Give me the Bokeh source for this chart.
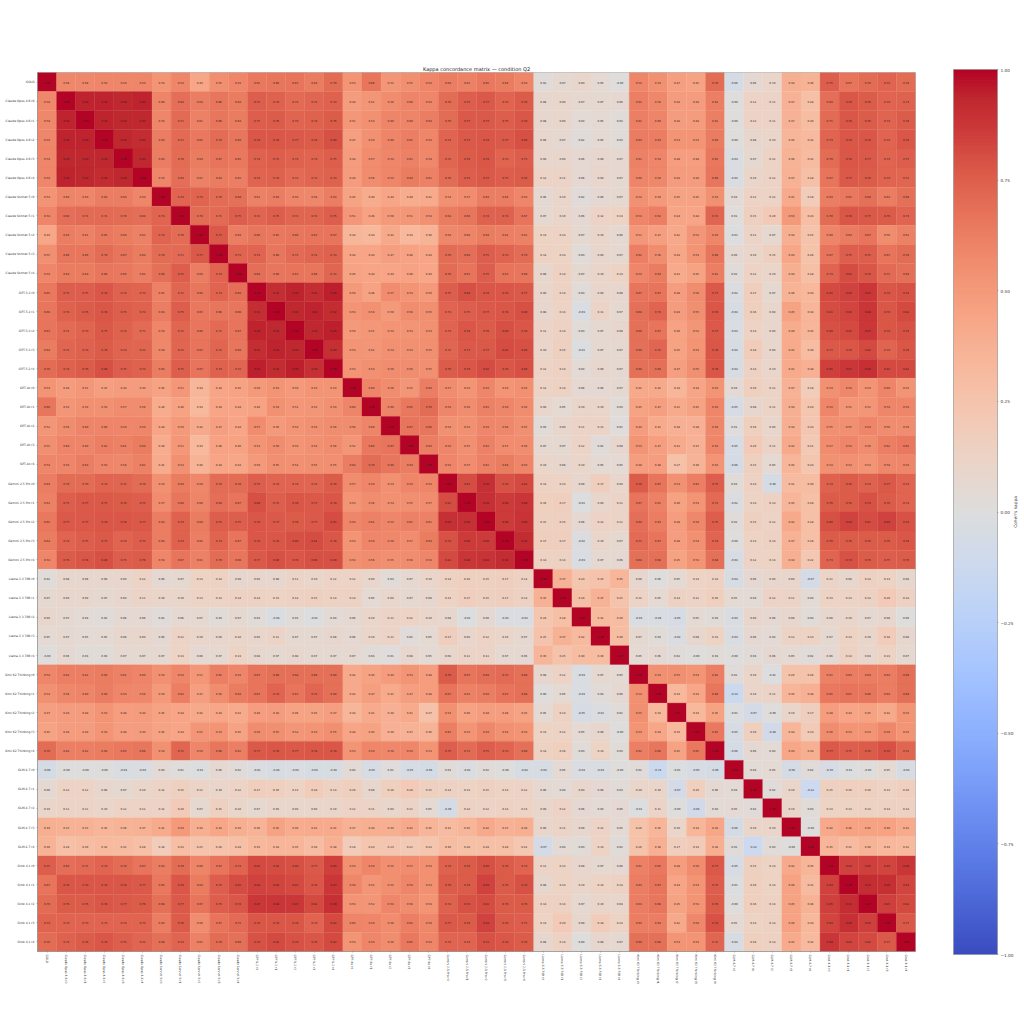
import numpy as np
from bokeh.plotting import figure
from bokeh.layouts import row
from bokeh.embed import file_html
from bokeh.resources import INLINE
from bokeh.models import ColumnDataSource, LinearColorMapper, ColorBar, FixedTicker, FactorRange, Label, Range1d
from bokeh.core.properties import value
from bokeh.transform import transform

models = ["Claude Opus 4.6", "Claude Sonnet 5", "GPT-5.2", "GPT-4o", "Gemini 2.5 Pro", "Llama 3.3 70B", "Kimi K2 Thinking", "GLM-4.7", "Grok 4.1"]
labels = ["GOLD"] + [f"{m} r{i}" for m in models for i in range(5)]

# Upper triangle of the kappa matrix (values right of the diagonal), one list per row
gold = [.58,.58,.59,.59,.59, .53,.59,.43,.55,.59, .65,.66,.67,.64,.70, .53,.66,.52,.55,.59, .63,.61,.65,.64,.59, .02,.07,.09,.05,-.0, .59,.54,.47,.45,.70, -.06,.06,.10,.39,.36, .75,.67,.70,.73,.70]
opus0 = [.94,.94,.93,.94, .60,.69,.63,.66,.64, .75,.74,.71,.72,.74, .49,.52,.56,.60,.59, .70,.75,.77,.73,.76, .08,.09,.07,.07,.06, .62,.58,.49,.49,.62, -.0,.12,.11,.37,.28, .69,.78,.76,.73,.74]
opus1 = [.94,.93,.93, .59,.71,.61,.66,.64, .75,.76,.73,.74,.76, .51,.54,.60,.60,.63, .70,.77,.77,.75,.78, .08,.09,.04,.05,.03, .62,.60,.49,.49,.62, -.0,.12,.11,.37,.30, .71,.78,.76,.73,.76]
opus2 = [.93,.92, .63,.71,.65,.70,.66, .78,.78,.77,.76,.80, .47,.54,.60,.62,.59, .73,.77,.78,.77,.80, .08,.07,.02,.05,.03, .64,.63,.53,.53,.64, -.0,.08,.10,.35,.32, .73,.78,.78,.73,.78]
opus3 = [.93, .63,.70,.64,.67,.65, .74,.75,.74,.73,.75, .49,.57,.59,.61,.58, .72,.76,.78,.73,.75, .09,.09,.06,.08,.07, .61,.59,.48,.48,.65, -.03,.07,.12,.36,.31, .70,.78,.77,.73,.75]
opus4 = [.59,.69,.61,.64,.62, .73,.74,.71,.72,.74, .49,.56,.59,.64,.61, .70,.75,.77,.75,.76, .12,.11,.06,.09,.07, .60,.58,.49,.49,.66, -.03,.10,.12,.37,.28, .67,.77,.76,.73,.72]
sonnet0 = [.73,.73,.70,.68, .61,.63,.59,.58,.63, .45,.40,.44,.40,.41, .54,.57,.63,.63,.59, .06,.10,.02,.06,.07, .54,.50,.45,.45,.54, .04,.12,.12,.41,.18, .63,.65,.68,.63,.68]
sonnet1 = [.70,.71,.75, .72,.75,.72,.72,.75, .51,.46,.50,.51,.54, .64,.66,.74,.74,.67, .07,.10,.06,.12,.13, .59,.62,.44,.44,.72, .01,.15,.20,.50,.29, .70,.78,.77,.76,.73]
sonnet2 = [.77,.63, .66,.65,.66,.67,.67, .34,.33,.42,.33,.36, .58,.60,.64,.62,.61, .13,.13,.07,.10,.06, .51,.47,.42,.52,.59, -.01,.11,.07,.39,.25, .60,.64,.67,.56,.61]
sonnet3 = [.73, .73,.66,.71,.72,.74, .44,.44,.47,.46,.44, .70,.69,.75,.73,.70, .14,.13,.03,.09,.07, .62,.56,.43,.53,.66, .06,.10,.15,.43,.26, .67,.75,.75,.67,.70]
sonnet4 = [.69,.66,.67,.66,.72, .45,.44,.44,.46,.43, .70,.67,.75,.67,.66, .08,.14,.07,.10,.13, .59,.64,.41,.45,.62, .02,.12,.10,.39,.28, .73,.81,.78,.71,.68]
gpt52_0 = [.91,.94,.91,.95, .50,.46,.57,.53,.50, .75,.80,.78,.78,.77, .09,.14,.03,.09,.08, .67,.67,.48,.56,.77, -.02,.17,.07,.36,.33, .82,.84,.87,.78,.79]
gpt52_1 = [.93,.94,.92, .53,.54,.50,.56,.55, .73,.75,.77,.78,.80, .08,.13,-.03,.11,.07, .68,.73,.49,.55,.78, -.04,.16,.09,.45,.34, .81,.83,.88,.78,.82]
gpt52_2 = [.93,.95, .50,.51,.53,.53,.54, .73,.78,.76,.80,.78, .11,.14,.03,.07,.08, .68,.67,.46,.52,.77, -.03,.13,.09,.40,.35, .80,.82,.87,.78,.79]
gpt52_3 = [.90, .53,.52,.54,.54,.55, .72,.77,.77,.81,.80, .10,.15,-.01,.07,.07, .68,.72,.45,.53,.78, -.04,.18,.09,.41,.30, .77,.78,.82,.73,.78]
gpt52_4 = [.53,.54,.56,.56,.55, .76,.78,.81,.78,.80, .12,.14,.04,.08,.07, .68,.68,.47,.55,.78, -.04,.14,.10,.41,.38, .85,.87,.90,.82,.82]
gpt4o_0 = [.60,.56,.52,.63, .57,.53,.59,.53,.54, .12,.14,.06,.06,.07, .42,.42,.34,.44,.53, .04,.16,.12,.37,.18, .54,.58,.53,.60,.53]
gpt4o_1 = [.60,.65,.70, .59,.56,.61,.59,.56, .09,.05,.10,.10,.03, .45,.47,.41,.45,.59, -.05,.08,.11,.39,.24, .59,.52,.52,.59,.59]
gpt4o_2 = [.67,.66, .54,.54,.59,.58,.55, .03,.09,.11,.11,.01, .49,.41,.38,.38,.58, .01,.16,.09,.39,.23, .55,.55,.59,.56,.56]
gpt4o_3 = [.63, .59,.55,.61,.57,.56, .07,.07,.12,.02,.08, .53,.47,.41,.37,.59, -.05,.20,.11,.42,.21, .57,.59,.56,.62,.65]
gpt4o_4 = [.59,.57,.61,.64,.59, .10,.08,.10,.05,.05, .48,.48,.27,.36,.53, -.06,.15,.05,.35,.24, .54,.54,.53,.58,.59]
gem0 = [.81,.90,.79,.82, .14,.13,.08,.17,.09, .76,.67,.54,.62,.75, .03,.14,-.06,.31,.30, .74,.76,.74,.77,.73]
gem1 = [.90,.86,.88, .16,.17,-.01,.09,.11, .67,.61,.46,.53,.71, -.02,.13,.14,.35,.28, .76,.76,.79,.76,.73]
gem2 = [.86,.89, .15,.15,.06,.12,.11, .69,.63,.48,.58,.75, .02,.15,.12,.42,.28, .80,.84,.81,.84,.79]
gem3 = [.92, .17,.17,-.02,.10,.07, .71,.67,.48,.54,.73, -.00,.13,.14,.37,.28, .76,.76,.76,.76,.78]
gem4 = [.14,.14,-.03,.07,.06, .68,.68,.45,.53,.68, -.04,.12,.13,.39,.22, .73,.79,.76,.75,.76]
llama0 = [.37,.24,.25,.35, .08,.00,.05,.13,.14, -.04,.06,.09,.09,-.07, .11,.08,.14,.13,.08]
llama1 = [.28,.37,.25, .12,.05,.14,.12,.16, .05,.04,.12,.11,.04, .13,.13,.14,.20,.14]
llama2 = [.32,.30, -.03,-.03,-.05,.05,.03, -.03,.09,.06,.08,.03, .08,.10,.07,.08,.00]
llama3 = [.30, .07,.03,-.02,.08,.13, -.03,.06,.04,.12,.13, .07,.13,.10,.18,.08]
llama4 = [.05,.06,.02,-.00,.03, -.00,.03,.06,.05,.02, .06,.14,.09,.13,.07]
kimi0 = [.54,.55,.53,.62, .02,.10,-.01,.26,.26, .61,.63,.63,.63,.68]
kimi1 = [.33,.43,.66, -.13,.10,.11,.35,.38, .65,.67,.66,.63,.68]
kimi2 = [.33,.45, -.01,-.07,-.00,.10,.17, .48,.44,.45,.42,.53]
kimi3 = [.65, -.05,.16,-.08,.34,.19, .56,.53,.53,.58,.53]
kimi4 = [-.06,.06,.04,.43,.39, .77,.75,.76,.79,.72]
glm0 = [.04,.05,-.06,.02, -.05,-.01,-.00,.05,-.04]
glm1 = [.02,.10,-.12, .15,.16,.16,.13,.16]
glm2 = [.10,.03, .13,.13,.14,.14,.14]
glm3 = [-.00, .42,.46,.45,.46,.41]
glm4 = [.35,.31,.36,.33,.32]
grok0 = [.84,.85,.83,.88]
grok1 = [.91,.90,.83]
grok2 = [.85,.82]
grok3 = [.77]
grok4 = []

upper_rows = [gold, opus0, opus1, opus2, opus3, opus4, sonnet0, sonnet1, sonnet2, sonnet3, sonnet4,
              gpt52_0, gpt52_1, gpt52_2, gpt52_3, gpt52_4, gpt4o_0, gpt4o_1, gpt4o_2, gpt4o_3, gpt4o_4,
              gem0, gem1, gem2, gem3, gem4, llama0, llama1, llama2, llama3, llama4,
              kimi0, kimi1, kimi2, kimi3, kimi4, glm0, glm1, glm2, glm3, glm4, grok0, grok1, grok2, grok3, grok4]
colorbar_ticks = [-1.0, -0.75, -0.5, -0.25, 0.0, 0.25, 0.5, 0.75, 1.0]

n = len(labels)
M = np.eye(n)
for i, r in enumerate(upper_rows):
    assert len(r) == n - 1 - i, (i, len(r))
    for k, v in enumerate(r):
        M[i, i + 1 + k] = v
        M[i + 1 + k, i] = v

# coolwarm colormap
cw = np.array([[59,76,192],[68,90,204],[77,104,215],[87,117,225],[98,130,234],[108,142,241],[119,154,247],[130,165,251],
               [141,176,254],[152,185,255],[163,194,255],[174,201,253],[184,208,249],[194,213,244],[204,217,238],[213,219,230],
               [221,221,221],[229,216,209],[236,211,197],[241,204,185],[245,196,173],[247,187,160],[247,177,148],[247,166,135],
               [244,154,123],[241,141,111],[236,127,99],[229,112,88],[222,96,77],[213,77,66],[203,55,56],[192,40,47],[180,4,38]], float)
pos = np.linspace(0, 1, len(cw))
t = np.linspace(0, 1, 256)
palette = ["#%02x%02x%02x" % tuple(int(round(np.interp(u, pos, cw[:, c]))) for c in range(3)) for u in t]
mapper = LinearColorMapper(palette=palette, low=-1, high=1)

xs, ys, vals, txt = [], [], [], []
for i in range(n):
    for j in range(n):
        xs.append(labels[j]); ys.append(labels[i]); vals.append(M[i, j]); txt.append(f"{M[i, j]:.2f}")
src = ColumnDataSource(dict(x=xs, y=ys, v=vals, t=txt))

FONT = "DejaVu Sans"
HEIGHT = 1016
p = figure(width=930, height=HEIGHT, output_backend="svg", toolbar_location=None,
           x_range=FactorRange(factors=labels, range_padding=0),
           y_range=FactorRange(factors=labels[::-1], range_padding=0),
           min_border_left=37, min_border_right=15, min_border_top=72, min_border_bottom=65)
color = transform("v", mapper)
p.rect("x", "y", width=1, height=1, source=src, fill_color=color, line_color=color, line_width=0.3)
p.text("x", "y", text="t", source=src, text_font=value(FONT), text_font_size="2.7px",
       text_align="center", text_baseline="middle", text_color="#222222")
p.title.text = "Kappa concordance matrix \u2014 condition Q2"
p.title.align = "center"
p.title.text_font = FONT
p.title.text_font_size = "5px"
p.title.text_font_style = "normal"
p.title.text_color = "#222222"
p.title.standoff = 2
p.grid.visible = False
p.outline_line_color = "#8c8c8c"
p.outline_line_width = 0.6
for ax in (p.xaxis[0], p.yaxis[0]):
    ax.major_label_text_font = FONT
    ax.major_label_text_font_size = "3px"
    ax.major_label_text_color = "#333333"
    ax.major_label_standoff = 2
    ax.major_tick_out = 1
    ax.major_tick_in = 0
    ax.major_tick_line_width = 0.4
    ax.major_tick_line_color = "#555555"
    ax.minor_tick_line_color = None
    ax.axis_line_color = "#8c8c8c"
    ax.axis_line_width = 0.6
p.xaxis[0].major_label_orientation = "vertical"

cfig = figure(width=90, height=HEIGHT, output_backend="svg", toolbar_location=None,
              x_range=Range1d(0, 1), y_range=Range1d(0, 1), min_border=0, outline_line_color=None)
cfig.axis.visible = False
cfig.grid.visible = False
overrides = {tk: f"{tk:.2f}".replace("-", "\u2212") for tk in colorbar_ticks}
cb = ColorBar(color_mapper=mapper, ticker=FixedTicker(ticks=colorbar_ticks), major_label_overrides=overrides,
              location=(23, -3), width=44, height=885, padding=0, margin=0,
              major_label_text_font=FONT, major_label_text_font_size="4.2px", major_label_text_color="#333333",
              major_tick_in=0, major_tick_out=1, major_tick_line_color="#555555", major_tick_line_width=0.4,
              minor_tick_line_color=None, bar_line_color="#8c8c8c", bar_line_width=0.6, label_standoff=2,
              background_fill_color=None, border_line_color=None)
cfig.add_layout(cb, "center")
cfig.add_layout(Label(x=0.944, y=0.5, x_units="data", y_units="data", text="Cohen's kappa", angle=np.pi / 2,
                      text_font=FONT, text_font_size="4.3px", text_color="#333333",
                      text_align="center", text_baseline="middle"))

open("out.html", "w").write(file_html(row(p, cfig, spacing=0), INLINE))
